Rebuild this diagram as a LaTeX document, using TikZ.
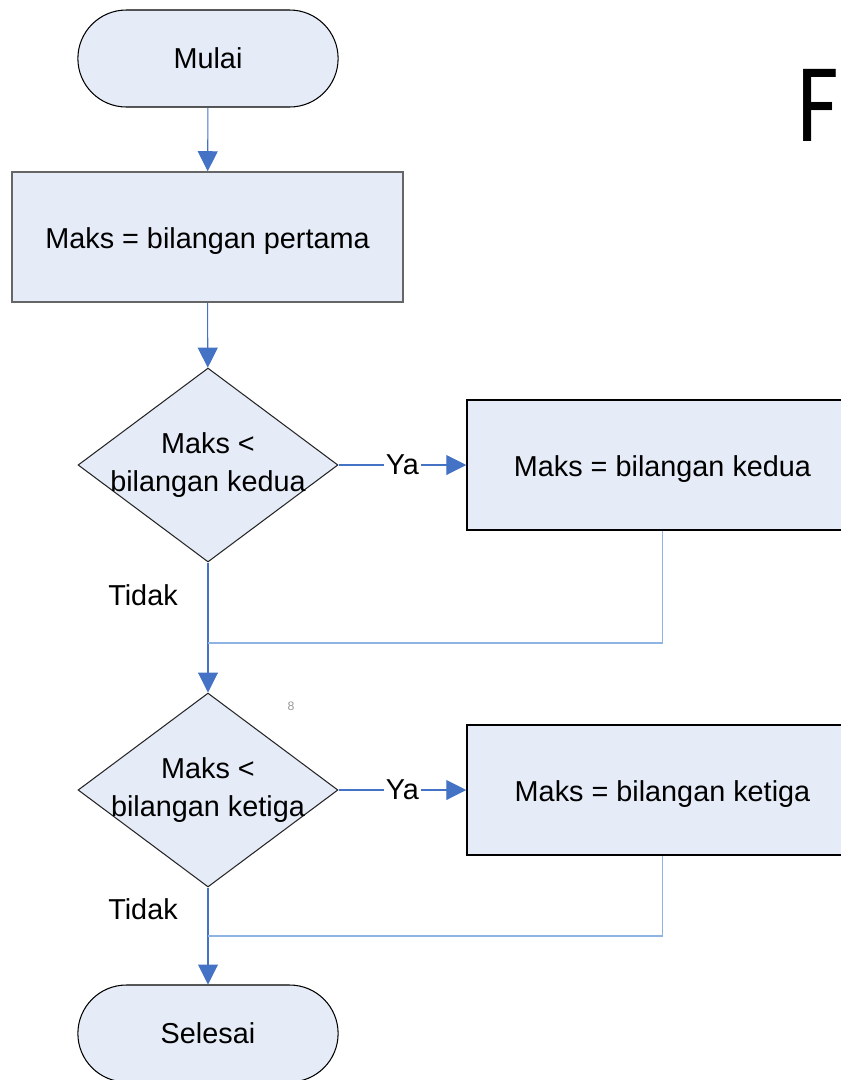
\documentclass[tikz,border=0pt]{standalone}
\usepackage{fontspec}
\setmainfont{Liberation Sans}
\newfontfamily\bigfont{Carlito}
\usetikzlibrary{positioning, arrows.meta, shapes.geometric, shapes.misc}
\definecolor{boxfill}{RGB}{230,236,247}
\definecolor{flowblue}{RGB}{68,114,196}
\definecolor{joinblue}{RGB}{142,180,227}
\newcommand{\lowtext}[1]{\raisebox{-2.5pt}[\height][\depth]{#1}}

\begin{document}
\begin{tikzpicture}[x=0.02cm, y=-0.02cm,
  font=\fontsize{16.4}{21.5}\selectfont,
  term/.style={draw=black, fill=boxfill, rounded rectangle, minimum width=5.44cm, minimum height=1.94cm, line width=0.6pt},
  proc/.style={draw=black, fill=boxfill, rectangle, minimum width=7.82cm, minimum height=2.6cm, line width=0.9pt},
  dec/.style={draw=black!85, fill=boxfill, diamond, minimum width=5.2cm, minimum height=3.88cm, inner sep=0pt, align=center, line width=0.6pt},
  flow/.style={draw=flowblue, line width=0.6pt, -{Triangle[length=0.4cm, width=0.4cm]}, color=flowblue},
  mergeline/.style={draw=joinblue, line width=0.9pt},
  lbl/.style={fill=white, inner sep=1pt, text=black}]
\useasboundingbox (0,0) rectangle (841,1080);
\node[term] (start) at (208,58.5) {Mulai};
\node[proc, draw=black!60] (first) at (207.5,237) {\lowtext{Maks = bilangan pertama}};
\node[dec] (cek2) at (208,465) {\makebox[0pt]{Maks <}\\\makebox[0pt]{bilangan kedua}};
\node[proc] (set2) at (662.5,465) {\lowtext{Maks = bilangan kedua}};
\node[dec] (cek3) at (208,790) {\makebox[0pt]{Maks <}\\\makebox[0pt]{bilangan ketiga}};
\node[proc] (set3) at (662.5,790) {\lowtext{Maks = bilangan ketiga}};
\node[term] (stop) at (208,1033.5) {Selesai};
\node (no2) at (143,595) {Tidak};
\node (no3) at (143,909) {Tidak};
\node[text=black!40, font=\fontsize{7}{8}\selectfont] (page) at (291,706) {8};
\node[font=\bigfont\fontsize{64}{70}\selectfont, anchor=base west, inner sep=0pt, xscale=0.8] (title) at (797,141) {F};
\coordinate (join2) at (208,643);
\coordinate (join3) at (208,936);
\draw[flow] (start) -- (first);
\draw[flow] (first) -- (cek2);
\draw[flow] (cek2.east) -- node[lbl] (yes2) {Ya} (set2.west);
\draw[flow] (cek2.south) -- (cek3.north);
\draw[mergeline] (set2.south) |- (join2);
\draw[flow] (cek3.east) -- node[lbl] (yes3) {Ya} (set3.west);
\draw[flow] (cek3.south) -- (stop.north);
\draw[mergeline] (set3.south) |- (join3);
\end{tikzpicture}
\end{document}
